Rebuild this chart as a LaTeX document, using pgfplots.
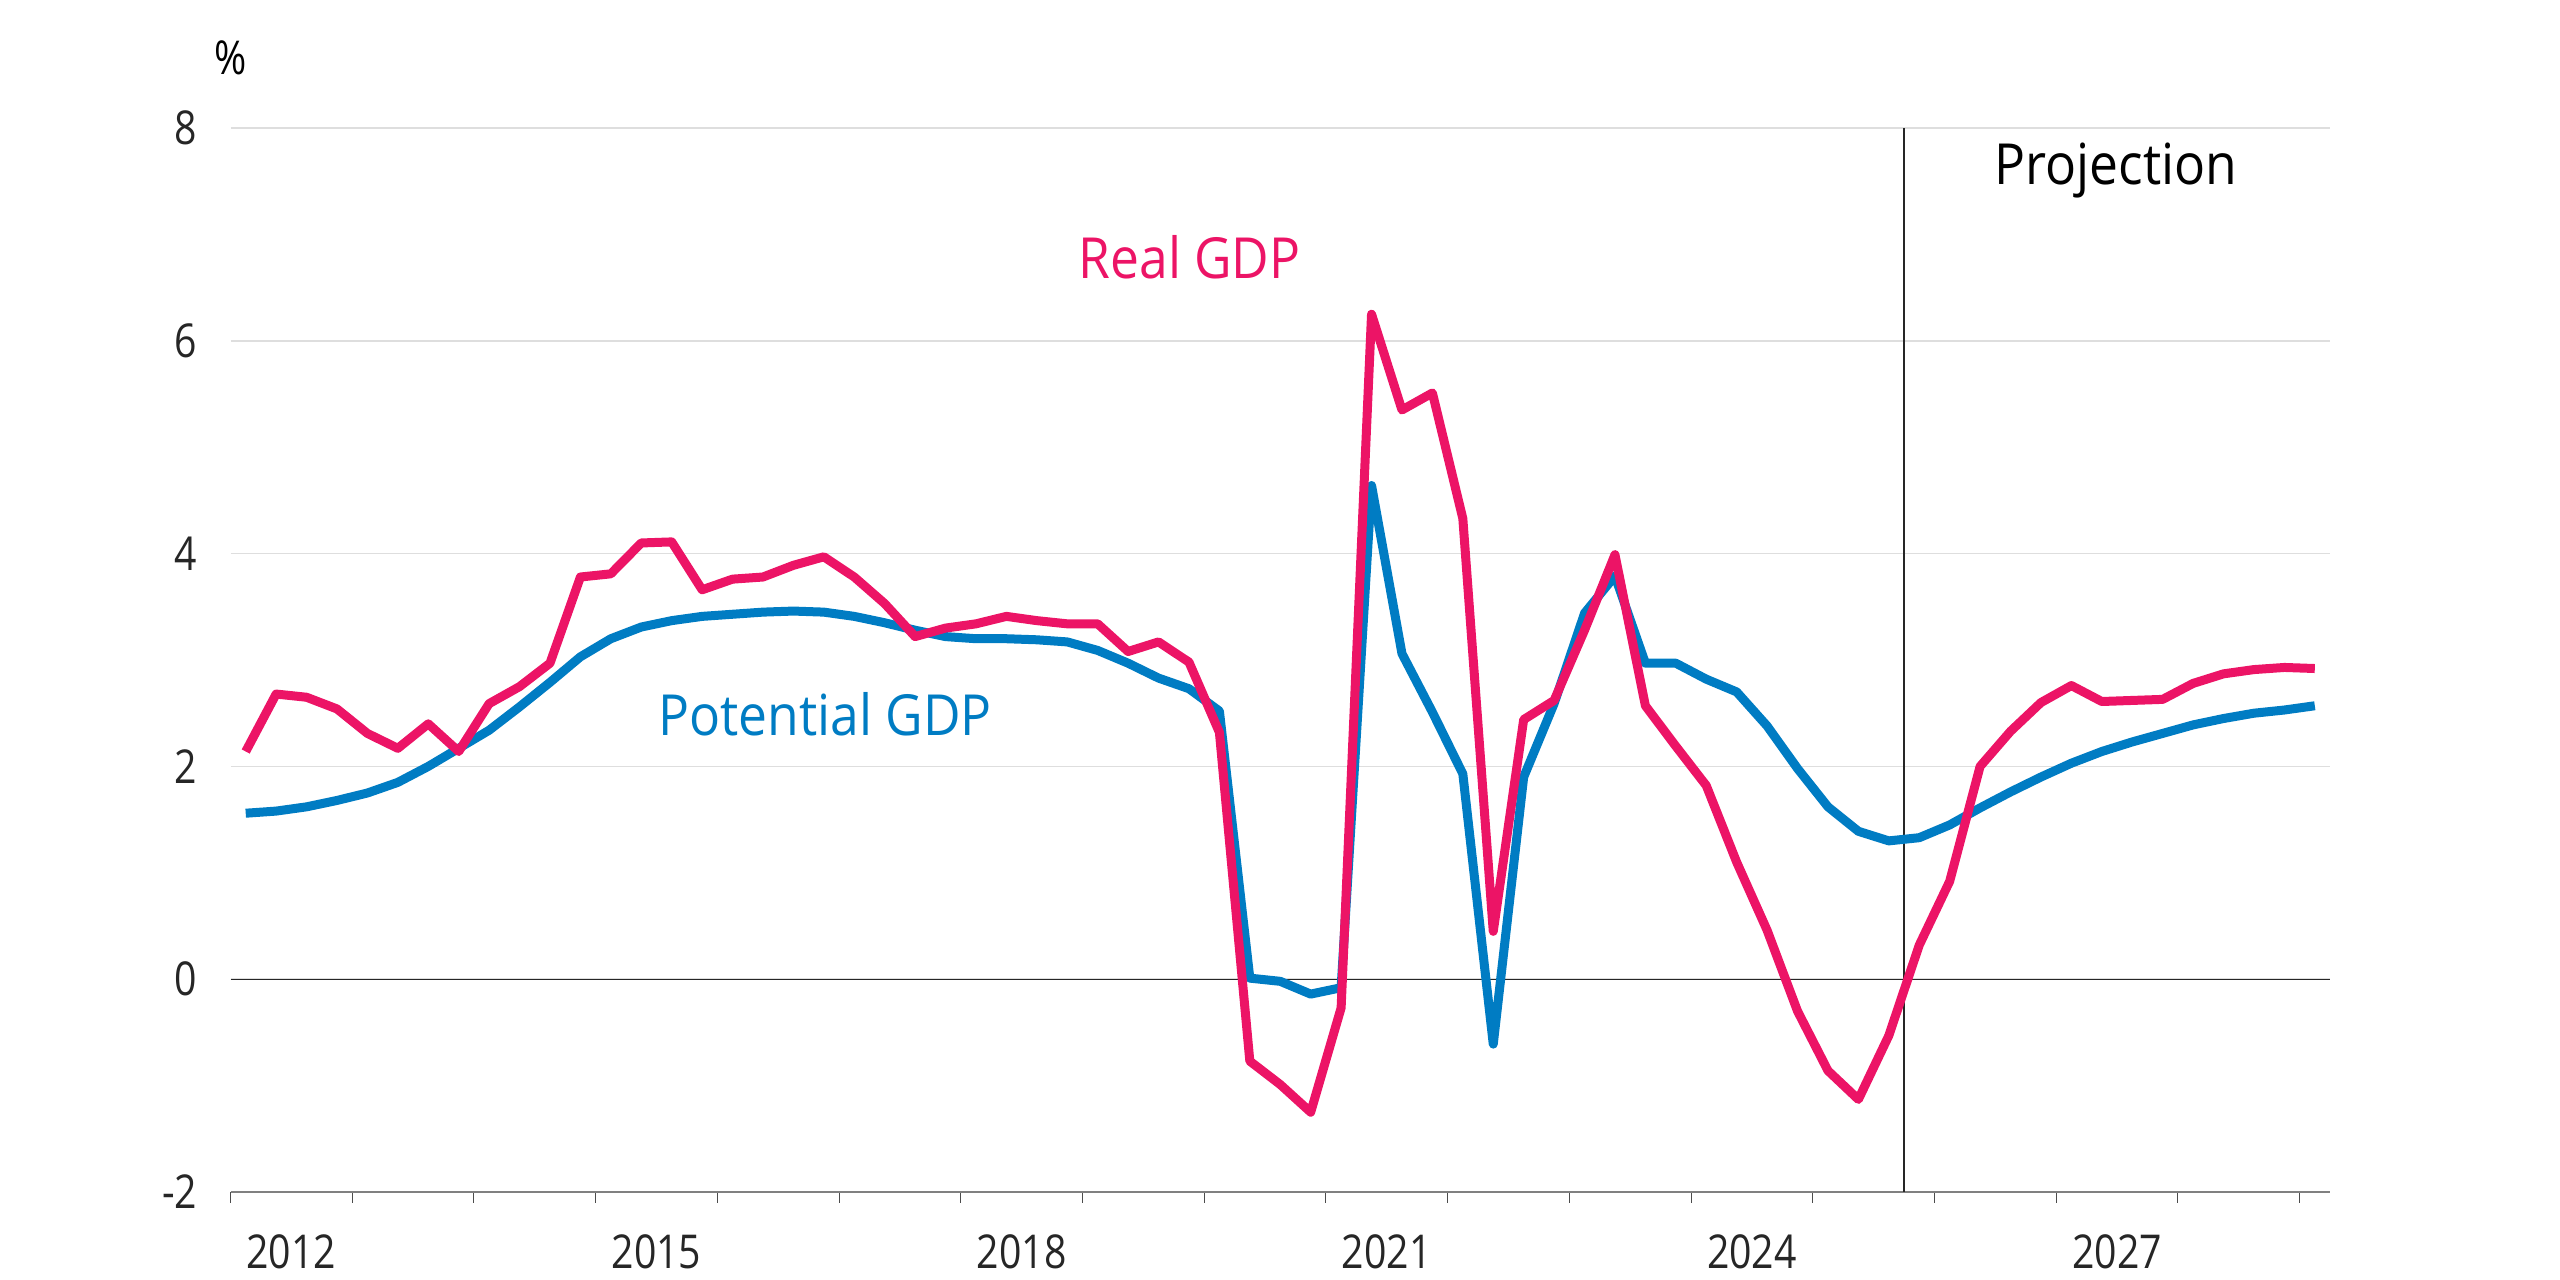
\documentclass[border=0pt]{standalone}
\usepackage{fontspec}
\setmainfont{Open Sans}
\newfontfamily\tickfont{Open Sans}[FakeStretch=0.84]
\newfontfamily\labfont{Open Sans}[FakeStretch=0.91]
\usepackage{pgfplots}
\pgfplotsset{compat=1.18}
\usepackage{pgfplotstable}
\definecolor{gdppink}{RGB}{236,20,102}
\definecolor{gdpblue}{RGB}{0,124,195}

\pgfplotstableread{
x real pot
2012.125 2.14 1.56
2012.375 2.68 1.58
2012.625 2.65 1.62
2012.875 2.54 1.68
2013.125 2.31 1.75
2013.375 2.17 1.85
2013.625 2.40 2.00
2013.875 2.14 2.17
2014.125 2.59 2.34
2014.375 2.75 2.56
2014.625 2.97 2.79
2014.875 3.78 3.03
2015.125 3.81 3.20
2015.375 4.10 3.31
2015.625 4.11 3.37
2015.875 3.66 3.41
2016.125 3.76 3.43
2016.375 3.78 3.45
2016.625 3.89 3.46
2016.875 3.97 3.45
2017.125 3.78 3.41
2017.375 3.53 3.35
2017.625 3.22 3.28
2017.875 3.30 3.22
2018.125 3.34 3.20
2018.375 3.41 3.20
2018.625 3.37 3.19
2018.875 3.34 3.17
2019.125 3.34 3.09
2019.375 3.08 2.97
2019.625 3.17 2.83
2019.875 2.98 2.73
2020.125 2.32 2.52
2020.375 -0.77 0.01
2020.625 -0.99 -0.02
2020.875 -1.25 -0.14
2021.125 -0.27 -0.08
2021.375 6.25 4.64
2021.625 5.35 3.06
2021.875 5.51 2.51
2022.125 4.33 1.93
2022.375 0.45 -0.61
2022.625 2.44 1.90
2022.875 2.62 2.59
2023.125 3.28 3.44
2023.375 3.99 3.79
2023.625 2.57 2.97
2023.875 2.19 2.97
2024.125 1.82 2.82
2024.375 1.10 2.70
2024.625 0.46 2.38
2024.875 -0.30 1.98
2025.125 -0.86 1.62
2025.375 -1.13 1.39
2025.625 -0.53 1.30
2025.875 0.32 1.33
2026.125 0.92 1.45
2026.375 2.00 1.61
2026.625 2.33 1.76
2026.875 2.60 1.90
2027.125 2.76 2.03
2027.375 2.61 2.14
2027.625 2.62 2.23
2027.875 2.63 2.31
2028.125 2.78 2.39
2028.375 2.87 2.45
2028.625 2.91 2.50
2028.875 2.93 2.53
2029.125 2.92 2.57
}\gdpdata

\begin{document}
\begin{tikzpicture}
\begin{axis}[
  at={(0,0)}, anchor=south west,
  scale only axis, width=629.85bp, height=319.2bp,
  xmin=2012, xmax=2029.25, ymin=-2, ymax=8,
  axis line style={draw=none},
  xtick={2012,2013,...,2029},
  x tick label as interval,
  xticklabels={2012,,,2015,,,2018,,,2021,,,2024,,,2027,},
  xtick pos=bottom,
  ytick={-2,0,2,4,6,8},
  yticklabels={-2,0,2,4,6,8},
  tick align=outside,
  major tick length=3.3bp,
  xtick style={draw=black!70, line width=0.3bp},
  ytick style={draw=none},
  ymajorgrids,
  grid style={draw=black!13, line width=0.5bp},
  tick label style={font=\tickfont\fontsize{14bp}{16bp}\selectfont, text=black!85},
  yticklabel style={anchor=east, inner sep=0pt, xshift=-6.5bp},
  xticklabel style={anchor=center, inner sep=0pt, yshift=-14.6bp},
  clip=false,
]
\draw[black!50, line width=0.75bp] (axis cs:2012,-2) -- (axis cs:2029.25,-2);
\draw[black!85, line width=0.4bp] (axis cs:2012,0) -- (axis cs:2029.25,0);
\draw[black!85, line width=0.4bp] (axis cs:2025.75,-2) -- (axis cs:2025.75,8);

\addplot[gdpblue, line width=2.7bp, line join=round, no markers] table[x=x, y=pot] {\gdpdata};
\addplot[gdppink, line width=2.7bp, line join=round, no markers] table[x=x, y=real] {\gdpdata};

\node[anchor=base, inner sep=0pt, font=\labfont\fontsize{17bp}{20bp}\selectfont, text=gdppink] at (axis cs:2019.88,6.59) {Real GDP};
\node[anchor=base, inner sep=0pt, font=\labfont\fontsize{17bp}{20bp}\selectfont, text=gdpblue] at (axis cs:2016.885,2.29) {Potential GDP};
\node[anchor=base, inner sep=0pt, font=\labfont\fontsize{17bp}{20bp}\selectfont, text=black] at (axis cs:2027.49,7.47) {Projection};
\node[anchor=base, inner sep=0pt, font=\tickfont\fontsize{14bp}{16bp}\selectfont, text=black] at (axis cs:2012.0,8.50) {\%};
\end{axis}
\pgfresetboundingbox
\path[use as bounding box] (-69.15bp,-26.4bp) rectangle (698.85bp,357.6bp);
\end{tikzpicture}
\end{document}
